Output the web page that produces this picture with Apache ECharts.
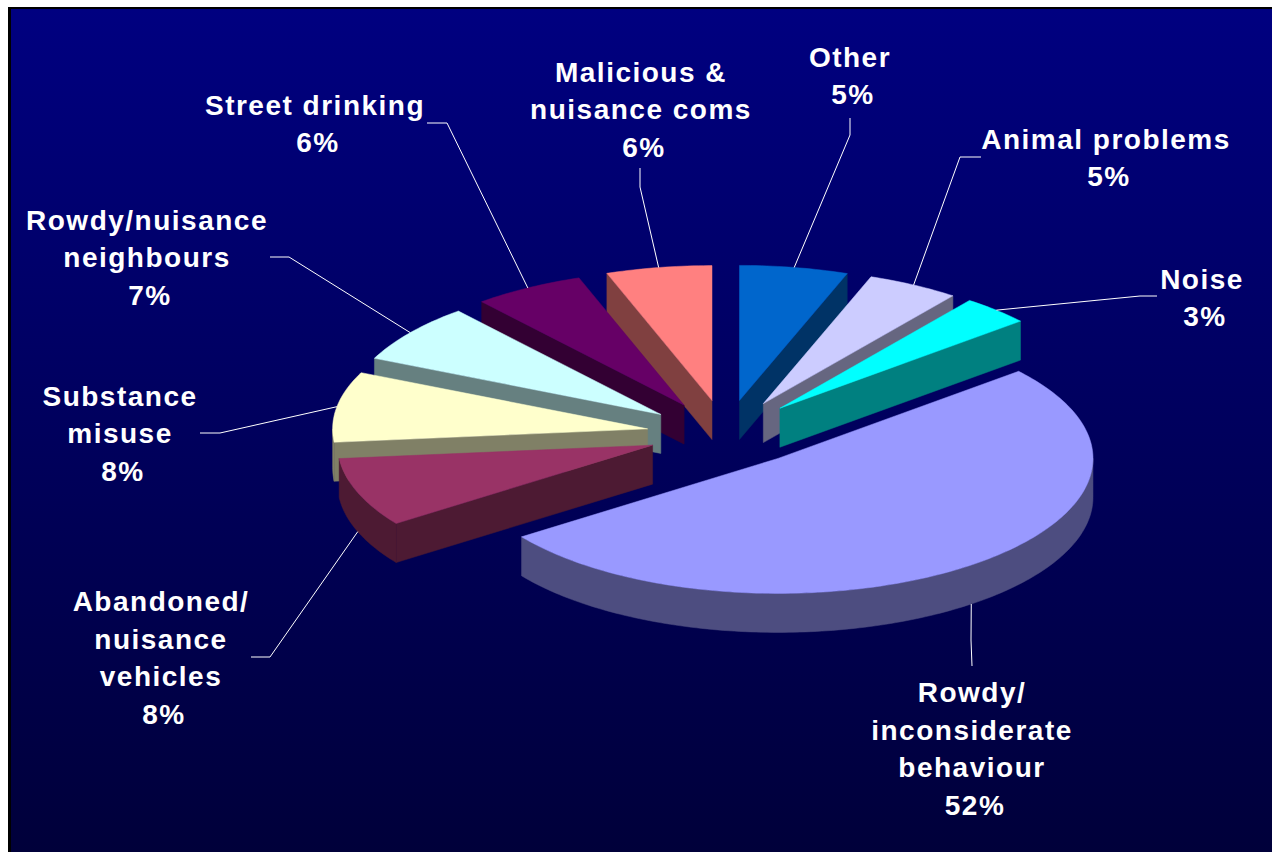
<!DOCTYPE html>
<html><head><meta charset="utf-8">
<style>html,body{margin:0;padding:0;background:#fff}#c{width:1272px;height:852px}
svg text{letter-spacing:1.5px}</style>
<script src="https://cdn.jsdelivr.net/npm/echarts@6/dist/echarts.min.js"></script>
</head><body><div id="c"></div>
<script>
// ---- data
var categories = ['Other','Animal problems','Noise','Rowdy/\ninconsiderate\nbehaviour','Abandoned/\nnuisance\nvehicles','Substance\nmisuse','Rowdy/nuisance\nneighbours','Street drinking','Malicious &\nnuisance coms'];
var percents = [5,5,3,52,8,8,7,6,6];
// ---- styling
var topColors = ['#0066CC','#CCCCFF','#00FFFF','#9999FF','#993366','#FFFFCC','#CCFFFF','#660066','#FF8080'];
// ---- layout of the tilted pie and its labels
var pieCx = 727, pieCy = 433, radX = 315, radY = 135, explodeX = 80, explodeY = 33, wall = 39;
// perspective correction (degrees) of each slice's end edge, as the original's 3D view shifts them
var edgeShift = [2,1,3,0.5,1.5,3,3.2,2.1,0];
var labelCentres = [[850,76],[1106,158],[1202,298],[972,749],[161,658],[120,434],[147,258],[315,124],[641,110]];
var leaderStarts = [[850,118],[981,157],[1157,296],[972,666],[251,657],[200,433],[270,257],[427,123],[640,168]];
var leaderKnees  = [[850,135],[960,157],[1140,296],[971,640],[270,657],[220,433],[289,257],[447,123],[640,187]];
var lineGap = 37.8, percentNudge = 3;

var total = percents.reduce(function(a,b){return a+b;},0);
function darken(hex){
  var n=parseInt(hex.slice(1),16),r=(n>>16)&255,g=(n>>8)&255,b=n&255;
  return 'rgb('+Math.round(r/2)+','+Math.round(g/2)+','+Math.round(b/2)+')';
}
function renderSlice(params, api){
  var i = params.dataIndex, before = 0;
  for (var k=0;k<i;k++) before += percents[k];
  var n0 = before/total*360, n1 = (before+api.value(0))/total*360, nMid=(n0+n1)/2;
  var a0 = n0+(i?edgeShift[i-1]:0), a1 = n1+edgeShift[i], mid=(a0+a1)/2;
  var rad = Math.PI/180;
  var ax = pieCx + explodeX*Math.sin(nMid*rad), ay = pieCy - explodeY*Math.cos(nMid*rad);
  function rim(a,dy){return [ax+radX*Math.sin(a*rad), ay-radY*Math.cos(a*rad)+(dy||0)];}
  var depth = Math.round(100 - 100*Math.cos(nMid*rad));
  var top=[[ax,ay]], a;
  for (a=a0;a<a1;a+=1) top.push(rim(a));
  top.push(rim(a1));
  var fill=topColors[i], side=darken(fill), kids=[];
  function poly(pts,c,z){kids.push({type:'polygon',shape:{points:pts},z2:z,style:{fill:c,stroke:c,lineWidth:0.5}});}
  var M=rim(mid);
  [a0,a1].forEach(function(e){
    var P=rim(e), dx=P[0]-ax;
    if (Math.abs(dx)<1) return;
    var lineY=ay+(P[1]-ay)*(M[0]-ax)/dx;
    if (M[1] < lineY) {
      poly([[ax,ay],P,[P[0],P[1]+wall],[ax,ay+wall]],side,depth);
    }
  });
  var f0=Math.max(a0,90), f1=Math.min(a1,270);
  if (f1>f0){
    var up=[],dn=[];
    for(a=f0;a<f1;a+=1){up.push(rim(a));dn.unshift(rim(a,wall));}
    up.push(rim(f1));dn.unshift(rim(f1,wall));
    poly(up.concat(dn),side,depth);
  }
  poly(top,fill,depth+1);
  // leader line and label
  var front=Math.cos(mid*rad)<-0.3;
  var tail=rim(mid,front?wall:0);
  kids.push({type:'polyline',z2:1000,shape:{points:[leaderStarts[i],leaderKnees[i],tail]},
    style:{fill:null,stroke:'#ffffff',lineWidth:1}});
  var font='bold 28px "Liberation Sans", Arial, sans-serif';
  var nameLines=categories[i].split('\n').length;
  kids.push({type:'text',z2:1001,x:labelCentres[i][0],y:labelCentres[i][1]-lineGap/2,
    style:{text:categories[i],fill:'#ffffff',align:'center',verticalAlign:'middle',font:font,lineHeight:lineGap}});
  kids.push({type:'text',z2:1001,x:labelCentres[i][0]+percentNudge,y:labelCentres[i][1]+nameLines*lineGap/2,
    style:{text:api.value(0)+'%',fill:'#ffffff',align:'center',verticalAlign:'middle',font:font,lineHeight:lineGap}});
  return {type:'group',children:kids};
}
var chart = echarts.init(document.getElementById('c'),null,{renderer:'svg',width:1272,height:852});
chart.setOption({
  animation:false,
  backgroundColor:'#ffffff',
  graphic:[
    {type:'rect',z:-2,silent:true,shape:{x:8,y:7,width:1264,height:845},style:{fill:'#000000'}},
    {type:'rect',z:-1,silent:true,shape:{x:11,y:9,width:1261,height:843},
      style:{fill:new echarts.graphic.LinearGradient(0,0,0,1,[{offset:0,color:'#000080'},{offset:1,color:'#00003a'}])}}
  ],
  series:[{type:'custom',coordinateSystem:'none',silent:true,clip:false,
    data:percents.map(function(v,i){return {name:categories[i],value:[v]};}),
    renderItem:renderSlice}]
});
</script></body></html>
